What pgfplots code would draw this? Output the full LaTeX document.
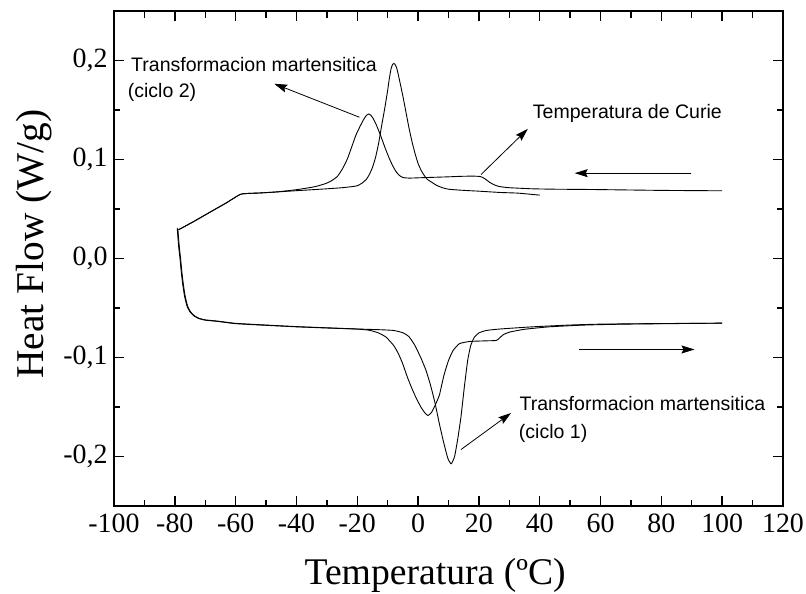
\documentclass[border=0pt]{standalone}
\usepackage{fontspec}
\setmainfont{Liberation Serif}
\newfontfamily\arialfont{Liberation Sans}
\usepackage{pgfplots}
\pgfplotsset{compat=1.18}
\usetikzlibrary{arrows.meta}

\tikzset{
  dsc/.style={black, line width=0.9bp, mark=none, smooth, tension=0.3},
  flecha/.style={line width=0.8bp, -{Stealth[length=13bp,width=8bp,inset=2bp]}},
}

\begin{document}
\begin{tikzpicture}
% page frame: axis box is 669 x 495 with room for labels around it
\path[use as bounding box] (-114bp,-88bp) rectangle (692bp,506bp);
\begin{axis}[
  at={(0,0)}, anchor=south west,
  scale only axis, width=669bp, height=495bp,
  xmin=-100, xmax=120, ymin=-0.25, ymax=0.25,
  xtick={-100,-80,-60,-40,-20,0,20,40,60,80,100,120},
  ytick={-0.2,-0.1,0,0.1,0.2},
  yticklabels={{-0,2},{-0,1},{0,0},{0,1},{0,2}},
  minor x tick num=1, minor y tick num=1,
  tick align=inside,
  major tick length=10bp, minor tick length=6.5bp,
  every tick/.style={black, line width=1.4bp},
  axis line style={line width=1.6bp},
  /pgf/number format/assume math mode=true,
  tick label style={font=\fontsize{28}{30}\selectfont},
  xticklabel style={yshift=-4.7bp},
  yticklabel style={xshift=-3bp},
  xlabel={Temperatura (ºC)},
  xlabel style={at={(axis description cs:0.48,-0.1585)}, anchor=base,
                font=\fontsize{37.8}{40}\selectfont},
  ylabel={Heat Flow (W/g)},
  ylabel style={at={(axis description cs:-0.106,0.529)}, anchor=base,
                font=\fontsize{39.5}{42}\selectfont},
]

% ciclo 1, enfriamiento
\addplot[dsc] table {
40 0.0640
33 0.0660
27 0.0667
20 0.0680
14 0.0690
10 0.0700
8 0.0715
6 0.0740
4.5 0.0770
3 0.0800
2 0.0840
1 0.0890
0 0.0960
-1 0.1060
-2 0.1180
-3 0.1320
-4 0.1480
-5 0.1640
-6 0.1785
-6.6 0.1870
-7.1 0.1930
-7.6 0.1962
-8.0 0.1970
-8.4 0.1960
-8.9 0.1915
-9.5 0.1810
-10 0.1700
-11 0.1510
-12 0.1340
-13 0.1160
-14 0.1020
-15 0.0920
-16 0.0850
-17 0.0800
-18.5 0.0760
-20 0.0735
-22 0.0725
-25 0.0715
-30 0.0704
-40 0.0685
-46.7 0.0672
-52 0.0662
-58.2 0.0650
-63 0.0563
-68.6 0.0465
-74 0.0370
-78.8 0.0290
};

% ciclo 2, enfriamiento
\addplot[dsc] table {
100 0.0684
80 0.0688
57 0.0697
45 0.0700
37.6 0.0704
30 0.0715
26.7 0.0727
25 0.0745
23.5 0.0770
22 0.0805
20.5 0.0828
18 0.0832
14 0.0830
10 0.0825
5 0.0820
0 0.0815
-3 0.0812
-5 0.0818
-6.2 0.0840
-7.3 0.0880
-8.4 0.0940
-9.6 0.1020
-11 0.1130
-12.3 0.1240
-13.6 0.1340
-14.6 0.1405
-15.4 0.1442
-16.2 0.1460
-17.0 0.1445
-17.8 0.1410
-19 0.1340
-20.4 0.1250
-21.8 0.1130
-23.2 0.1010
-24.8 0.0910
-26.5 0.0830
-28.5 0.0785
-30.3 0.0758
-34 0.0725
-40 0.0695
-46.7 0.0672
-52 0.0662
-58.2 0.0650
-63 0.0563
-68.6 0.0465
-74 0.0370
-78.8 0.0290
};

% ciclo 1, calentamiento
\addplot[dsc] table {
-79 0.030
-78.8 0.022
-78.5 0.011
-78.1 0.000
-77.7 -0.013
-77.2 -0.026
-76.6 -0.038
-75.8 -0.048
-74.8 -0.054
-73.5 -0.058
-72 -0.0605
-70 -0.0620
-66 -0.0632
-60 -0.0655
-50 -0.0672
-40 -0.0688
-30 -0.0700
-20 -0.0712
-12 -0.0720
-8 -0.0727
-5 -0.0750
-3 -0.0790
-1 -0.0880
1 -0.1010
2.6 -0.1130
4 -0.1270
5.5 -0.1450
7 -0.1670
8.5 -0.1870
9.8 -0.2020
10.9 -0.2074
12 -0.2000
13 -0.1830
14.1 -0.1600
15.2 -0.1300
16.3 -0.1030
17.3 -0.0880
18.5 -0.0795
20 -0.0752
22.4 -0.0727
27 -0.0712
37.7 -0.0690
50 -0.0672
60 -0.0663
80 -0.0657
100 -0.0653
};

% ciclo 2, calentamiento
\addplot[dsc] table {
-79.2 0.031
-79.0 0.022
-78.7 0.011
-78.3 0.000
-77.9 -0.013
-77.4 -0.026
-76.8 -0.038
-76.0 -0.048
-75.0 -0.054
-73.7 -0.058
-72.2 -0.0605
-70 -0.0623
-66 -0.0635
-60 -0.0658
-50 -0.0675
-40 -0.0690
-30 -0.0702
-20 -0.0713
-16 -0.0725
-13 -0.0752
-10.5 -0.0795
-8 -0.0880
-6.5 -0.0960
-5.1 -0.1060
-3.5 -0.1200
-2 -0.1315
-0.7 -0.1405
1 -0.1505
2.2 -0.1558
3.2 -0.1586
4.3 -0.1560
5.5 -0.1490
7 -0.1380
8.5 -0.1180
10 -0.1030
11.5 -0.0930
13.6 -0.0860
17 -0.0838
22 -0.0832
25.7 -0.0828
26.7 -0.0805
28 -0.0770
30 -0.0744
35 -0.0715
43.2 -0.0690
55 -0.0672
70 -0.0662
100 -0.0653
};

% sentido de barrido
\draw[flecha] (axis cs:89.9,0.0862) -- (axis cs:51.5,0.0862);
\draw[flecha] (axis cs:53,-0.0919) -- (axis cs:90.9,-0.0919);

% anotaciones
\draw[flecha] (axis cs:-19.3,0.1427) -- (axis cs:-47.3,0.1765);
\draw[flecha] (axis cs:20.7,0.0848) -- (axis cs:36.1,0.131);
\draw[flecha] (axis cs:14.1,-0.193) -- (axis cs:30.6,-0.156);

\begin{scope}[every node/.style={inner sep=0pt, anchor=base west,
    font=\arialfont\fontsize{19.6}{23}\selectfont}]
\node at (axis cs:-94.4,0.1889) {Transformacion martensitica};
\node at (axis cs:-95.5,0.1630) {(ciclo 2)};
\node at (axis cs:37.7,0.1410) {Temperatura de Curie};
\node at (axis cs:33.3,-0.1535) {Transformacion martensitica};
\node at (axis cs:33.1,-0.1820) {(ciclo 1)};
\end{scope}

\end{axis}
\end{tikzpicture}
\end{document}
